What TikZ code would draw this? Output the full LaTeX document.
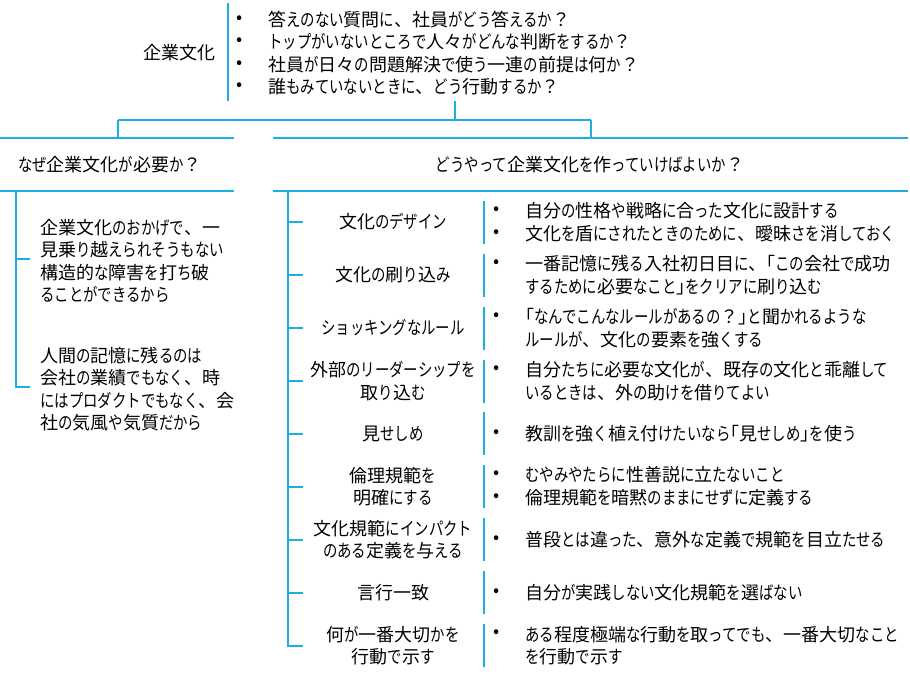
\documentclass[tikz,border=0pt]{standalone}
\usepackage{fontspec}
\setmainfont{Noto Sans CJK JP}
\newfontfamily\kanafont[FakeStretch=0.8]{Noto Sans CJK JP}
\newfontfamily\brkfont[RawFeature=+palt]{Noto Sans CJK JP}
% \kn{...}: kana set narrower than kanji, corner brackets proportional
\ExplSyntaxOn
\cs_new_protected:Npn \kn #1
  {
    \tl_map_inline:nn {#1}
      {
        \token_if_cs:NTF ##1
          { ##1 }
          {
            \int_compare:nTF { "3041 <= `##1 <= "30FF }
              { { \kanafont ##1 } }
              {
                \int_compare:nTF { "300C <= `##1 <= "300D }
                  { { \brkfont ##1 } }
                  { ##1 }
              }
          }
      }
  }
\ExplSyntaxOff
\definecolor{lb}{RGB}{30,174,228}
\tikzset{
  ln/.style={draw=lb, line width=2pt},
  txt/.style={font=\fontsize{18}{22.5}\selectfont, inner sep=0pt, text=black},
  bul/.style={txt, anchor=center},
  itm/.style={txt, anchor=west, align=left},
  lab/.style={txt, align=center},
}
\begin{document}
\begin{tikzpicture}[x=1pt,y=-1pt]
\fill[white] (0,0) rectangle (910,680);
\useasboundingbox (0,0) rectangle (910,680);

% ---- top: root ----
\node[txt, anchor=east] (root) at (216,53) {\kn{企業文化}};
\coordinate (rootT) at (228,3);
\coordinate (rootB) at (228,101);
\draw[ln] (rootT) -- (rootB);
\node[bul] (rb1) at (240,19.5) {•};
\node[itm] (rq1) at (268,19.5) {\kn{答えのない質問に、社員がどう答えるか？}};
\node[bul] (rb2) at (240,42) {•};
\node[itm] (rq2) at (268,42) {\kn{トップがいないところで人々がどんな判断をするか？}};
\node[bul] (rb3) at (240,64.5) {•};
\node[itm] (rq3) at (268,64.5) {\kn{社員が日々の問題解決で使う一連の前提は何か？}};
\node[bul] (rb4) at (240,87) {•};
\node[itm] (rq4) at (268,87) {\kn{誰もみていないときに、どう行動するか？}};

% ---- connectors ----
\coordinate (hub) at (455,101);
\coordinate (hubB) at (455,120);
\coordinate (busL) at (118,120);
\coordinate (busR) at (591,120);
\coordinate (dropL) at (118,137.5);
\coordinate (dropR) at (591,137.5);
\draw[ln] (hub) -- (hubB);
\draw[ln] (busL) -- (busR);
\draw[ln] (busL) -- (dropL);
\draw[ln] (busR) -- (dropR);

% ---- headers ----
\draw[ln] (0,137.5) -- (234,137.5);
\draw[ln] (0,191) -- (234,191);
\draw[ln] (273,137.5) -- (908,137.5);
\draw[ln] (273,191) -- (908,191);
\node[txt, anchor=west] (whyH) at (18,165) {\kn{なぜ企業文化が必要か？}};
\node[txt] (howH) at (590,165) {\kn{どうやって企業文化を作っていけばよいか？}};

% ---- left body ----
\coordinate (lvT) at (16,191);
\coordinate (lvB) at (16,387);
\draw[ln] (lvT) -- (lvB) -- (30,387);
\draw[ln] (16,259) -- (30,259);
\node[itm] (why1) at (40,261) {\kn{企業文化のおかげで、一}\\\kn{見乗り越えられそうもない}\\\kn{構造的な障害を打ち破}\\\kn{ることができるから}};
\node[itm] (why2) at (40,389) {\kn{人間の記憶に残るのは}\\\kn{会社の業績でもなく、時}\\\kn{にはプロダクトでもなく、会}\\\kn{社の気風や気質だから}};

% ---- right body ----
\coordinate (rvT) at (288,191);
\coordinate (rvB) at (288,645.5);
\draw[ln] (rvT) -- (rvB) -- (303,645.5);
\foreach \y in {222,275,328,381,433.5,486.5,539.5,592.5}
  \draw[ln] (288,\y) -- (303,\y);
\foreach \y in {222,275,328,381,433.5,486.5,539.5,592.5,645.5}
  \draw[ln] (484,\y-21.5) -- (484,\y+21.5);

% row 1
\node[lab] (l1) at (393,222) {\kn{文化のデザイン}};
\node[bul] (b1a) at (497,210.5) {•};
\node[itm] (t1a) at (525,210.5) {\kn{自分の性格や戦略に合った文化に設計する}};
\node[bul] (b1b) at (497,233.5) {•};
\node[itm] (t1b) at (525,233.5) {\kn{文化を盾にされたときのために、曖昧さを消しておく}};
% row 2
\node[lab] (l2) at (393,275) {\kn{文化の刷り込み}};
\node[bul] (b2) at (497,263.5) {•};
\node[itm] (t2) at (525,275) {\kn{一番記憶に残る入社初日目に、「この会社で成功}\\\kn{するために必要なこと」をクリアに刷り込む}};
% row 3
\node[lab] (l3) at (393,328) {\kn{ショッキングなルール}};
\node[bul] (b3) at (497,316.5) {•};
\node[itm] (t3) at (525,328) {\kn{「なんでこんなルールがあるの？」と聞かれるような}\\\kn{ルールが、文化の要素を強くする}};
% row 4
\node[lab] (l4) at (393,381) {\kn{外部のリーダーシップを}\\\kn{取り込む}};
\node[bul] (b4) at (497,369.5) {•};
\node[itm] (t4) at (525,381) {\kn{自分たちに必要な文化が、既存の文化と乖離して}\\\kn{いるときは、外の助けを借りてよい}};
% row 5
\node[lab] (l5) at (393,433.5) {\kn{見せしめ}};
\node[bul] (b5) at (497,433.5) {•};
\node[itm] (t5) at (525,433.5) {\kn{教訓を強く植え付けたいなら「見せしめ」を使う}};
% row 6
\node[lab] (l6) at (393,486.5) {\kn{倫理規範を}\\\kn{明確にする}};
\node[bul] (b6a) at (497,475) {•};
\node[itm] (t6a) at (525,475) {\kn{むやみやたらに性善説に立たないこと}};
\node[bul] (b6b) at (497,498) {•};
\node[itm] (t6b) at (525,498) {\kn{倫理規範を暗黙のままにせずに定義する}};
% row 7
\node[lab] (l7) at (393,539.5) {\kn{文化規範にインパクト}\\\kn{のある定義を与える}};
\node[bul] (b7) at (497,539.5) {•};
\node[itm] (t7) at (525,539.5) {\kn{普段とは違った、意外な定義で規範を目立たせる}};
% row 8
\node[lab] (l8) at (393,592.5) {\kn{言行一致}};
\node[bul] (b8) at (497,592.5) {•};
\node[itm] (t8) at (525,592.5) {\kn{自分が実践しない文化規範を選ばない}};
% row 9
\node[lab] (l9) at (393,645.5) {\kn{何が一番大切かを}\\\kn{行動で示す}};
\node[bul] (b9) at (497,634) {•};
\node[itm] (t9) at (525,645.5) {\kn{ある程度極端な行動を取ってでも、一番大切なこと}\\\kn{を行動で示す}};
\end{tikzpicture}
\end{document}
